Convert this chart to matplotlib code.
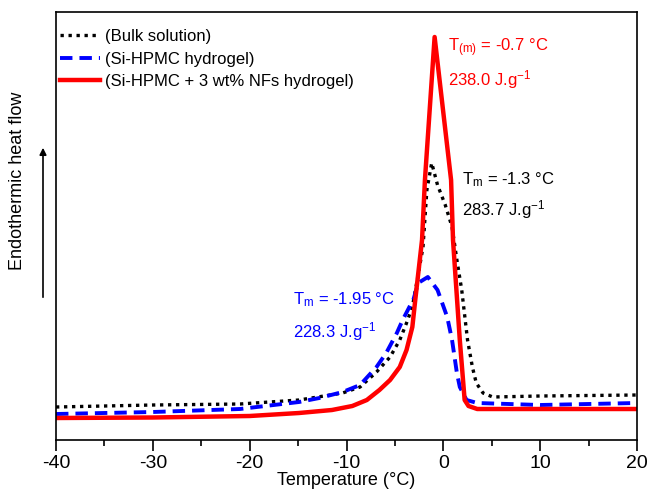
import matplotlib
matplotlib.use("Agg")
import matplotlib.pyplot as plt
from matplotlib.ticker import MultipleLocator

plt.rcParams['font.family'] = ['Liberation Sans', 'DejaVu Sans']
plt.rcParams['mathtext.default'] = 'regular'
plt.rcParams['axes.unicode_minus'] = False

# curves: temperature (°C) and signal height (arb. units)
bulk_T = [-40, -30, -21, -14.9, -10.4, -8.6, -6.9, -5.5, -4.5, -3.8, -3.2, -2.6, -2.1,
          -1.7, -1.2, -0.6, 0.2, 0.9, 1.4, 1.9, 2.5, 3.0, 3.4, 4.1, 5.1, 10, 20]
bulk_y = [33, 35, 36, 40, 47, 53, 68, 83, 100, 117, 133, 165, 193,
          250, 277, 255, 235, 213, 180, 150, 100, 73, 57, 47, 43, 44, 45]

gel_T = [-40, -30, -21, -14.9, -12.8, -10.4, -8.6, -6.9, -5.9, -4.8, -4.2, -3.4, -3.1,
         -2.6, -1.6, -0.6, 0.4, 0.9, 1.4, 1.7, 2.4, 3.5, 10, 20]
gel_y = [26, 28, 31, 38, 42, 48, 55, 73, 87, 107, 120, 135, 140,
         157, 163, 150, 123, 100, 67, 53, 40, 37, 35, 37]

nf_T = [-40, -30, -20, -14.9, -11.5, -9.4, -7.9, -6.6, -5.5, -4.5, -3.8, -3.2, -2.9,
        -2.2, -1.9, -0.9, 0.8, 1.0, 1.7, 2.2, 2.6, 3.5, 10, 20]
nf_y = [22, 22.5, 24, 27, 30, 34, 40, 50, 60, 73, 90, 113, 140,
        200, 260, 403, 260, 200, 100, 40, 34, 31, 31, 31]

labels = ["(Bulk solution)", "(Si-HPMC hydrogel)", "(Si-HPMC + 3 wt% NFs hydrogel)"]

fig = plt.figure(figsize=(6.49, 4.90), dpi=100)
ax = fig.add_axes([56 / 649, 50 / 490, 581 / 649, 428 / 490])

ax.plot(bulk_T, bulk_y, color="black", ls=(0, (1, 1.4)), lw=2.4, label=labels[0])
ax.plot(gel_T, gel_y, color="#0000ff", ls=(0, (3.2, 1.8)), lw=2.8, label=labels[1])
ax.plot(nf_T, nf_y, color="#ff0000", ls="-", lw=3.2, label=labels[2])

ax.set_xlim(-40, 20)
ax.set_ylim(0, 428)
ax.xaxis.set_major_locator(MultipleLocator(10))
ax.xaxis.set_minor_locator(MultipleLocator(5))
ax.tick_params(axis="x", which="major", direction="out", length=8, width=1.2, labelsize=14, pad=3)
ax.tick_params(axis="x", which="minor", direction="out", length=4, width=1.2)
ax.set_yticks([])
for s in ax.spines.values():
    s.set_linewidth(1.2)
ax.set_xlabel("Temperature (°C)", fontsize=13, labelpad=0)

ax.legend(loc="upper left", frameon=False, fontsize=12, handlelength=2.4,
          handletextpad=0.3, labelspacing=0.45, borderaxespad=0, borderpad=0.2,
          bbox_to_anchor=(1 / 581, 1 - 14 / 428))

# y label and arrow outside the axes
fig.text(18 / 649, 1 - 181 / 490, "Endothermic heat flow", rotation=90,
         ha="center", va="center", fontsize=13)
ax.annotate("", xy=(43 / 649, 1 - 145 / 490), xytext=(43 / 649, 1 - 300 / 490),
            xycoords="figure fraction", textcoords="figure fraction",
            arrowprops=dict(arrowstyle="-|>", color="black", lw=1.2, mutation_scale=10))

# peak annotations
ax.text(0.5, 392, "T$_{(m)}$ = -0.7 °C", color="#ff0000", fontsize=12, va="center")
ax.text(0.5, 360, "238.0 J.g$^{-1}$", color="#ff0000", fontsize=12, va="center")
ax.text(1.9, 260, "T$_{m}$ = -1.3 °C", color="black", fontsize=12, va="center")
ax.text(1.9, 230, "283.7 J.g$^{-1}$", color="black", fontsize=12, va="center")
ax.text(-15.5, 140, "T$_{m}$ = -1.95 °C", color="#0000ff", fontsize=12, va="center")
ax.text(-15.5, 108, "228.3 J.g$^{-1}$", color="#0000ff", fontsize=12, va="center")

fig.savefig("out.png", dpi=100)
